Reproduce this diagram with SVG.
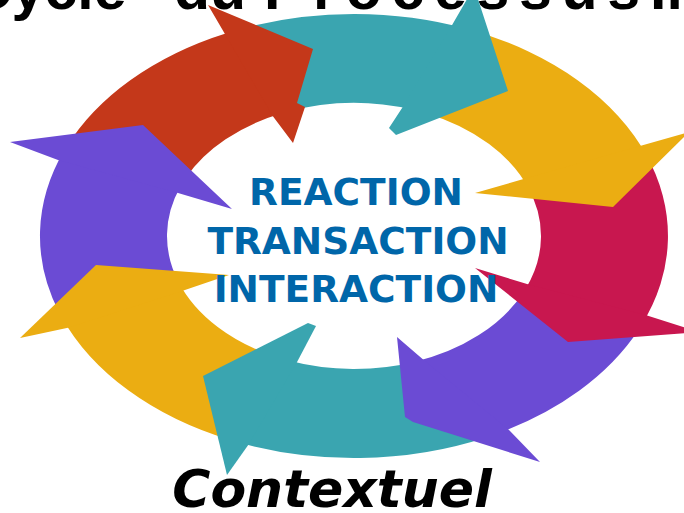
<svg xmlns="http://www.w3.org/2000/svg" width="684" height="513" viewBox="0 0 684 513">
<style>
.red{fill:#C4381A}
.teal{fill:#3AA5B0}
.yellow{fill:#EBAD12}
.crimson{fill:#C8174F}
.purple{fill:#6B4BD4}
.title{font-family:"Liberation Sans",Arial,sans-serif;font-weight:bold;font-size:59px;fill:#000}
.center{font-family:"DejaVu Sans",Verdana,sans-serif;font-weight:bold;font-size:37.5px;fill:#0066A9;text-anchor:middle}
.sub{font-family:"DejaVu Sans",Verdana,sans-serif;font-weight:bold;font-style:italic;font-size:52px;fill:#000;text-anchor:middle}
</style>
<rect width="684" height="513" fill="#fff"/>
<g id="title" class="title">
<text x="-31" y="9">Cycle</text>
<text x="174" y="9">du</text>
<text x="264" y="9" textLength="376">Processus</text>
<text x="650" y="9">In</text>
</g>
<g id="arrow-bands">
<path id="band-red" class="red" d="M71.8,138.7 A314,222 0 0 1 239.9,29.2 L281.8,113.3 A187,133 0 0 0 185.9,177.7 Z"/>
<path id="band-teal-top" class="teal" d="M241.5,28.7 A314,222 0 0 1 467.5,29.0 L411.8,109.5 A187,133 0 0 0 287.0,111.8 Z"/>
<path id="band-yellow-right" class="yellow" d="M471.6,30.2 A314,222 0 0 1 647.2,156.4 L530.3,191.6 A187,133 0 0 0 424.1,112.7 Z"/>
<path id="band-crimson" class="crimson" d="M645.1,152.8 A314,222 0 0 1 640.8,326.3 L526.1,288 A187,133 0 0 0 527.4,186.2 Z"/>
<path id="band-purple-bottom" class="purple" d="M638.6,329.8 A314,222 0 0 1 494.6,434.5 L414,362 A187,133 0 0 0 523.5,292.2 Z"/>
<path id="band-teal-bottom" class="teal" d="M486.7,437.2 A314,222 0 0 1 232.8,440.8 L287.6,360.3 A187,133 0 0 0 418.0,361.0 Z"/>
<path id="band-yellow-left" class="yellow" d="M229.8,439.9 A314,222 0 0 1 61.6,317 L178.3,281.5 A187,133 0 0 0 280.0,358.1 Z"/>
<path id="band-purple-left" class="purple" d="M58.9,311.9 A314,222 0 0 1 63.9,151 L180.6,186.2 A187,133 0 0 0 178.3,281.5 Z"/>
</g>
<g id="arrow-heads">
<polygon id="head-red" class="red" points="224.8,33.7 208,5 313,49 297,103 305,107 293,143 272.9,116.2"/>
<polygon id="head-teal-top" class="teal" points="452.1,25.1 474,-13 508,91 396,135 392,131 389,128 402.4,107.5"/>
<polygon id="head-yellow-right" class="yellow" points="640.8,145.7 689,132 613,207 475,193 527,178"/>
<polygon id="head-crimson" class="crimson" points="647.1,315.6 699,332 568,342 475,268 527,284"/>
<polygon id="head-purple-bottom" class="purple" points="509,430 540,462 413,422 405,417 397,337 423.1,359.6"/>
<polygon id="head-teal-bottom" class="teal" points="248.2,445 227,475 203,376 308,323 316,326 296.8,362.6"/>
<polygon id="head-yellow-left" class="yellow" points="68,327.7 20,338 96,265 229,275 182,291"/>
<polygon id="head-purple-left" class="purple" points="58,160 10,142 143,125 232,209 177.2,192.7"/>
</g>
<g id="center-text">
<text class="center" x="356" y="205">REACTION</text>
<text class="center" x="358" y="254">TRANSACTION</text>
<text class="center" x="356" y="302">INTERACTION</text>
</g>
<text id="subtitle" class="sub" x="332" y="507">Contextuel</text>
</svg>
